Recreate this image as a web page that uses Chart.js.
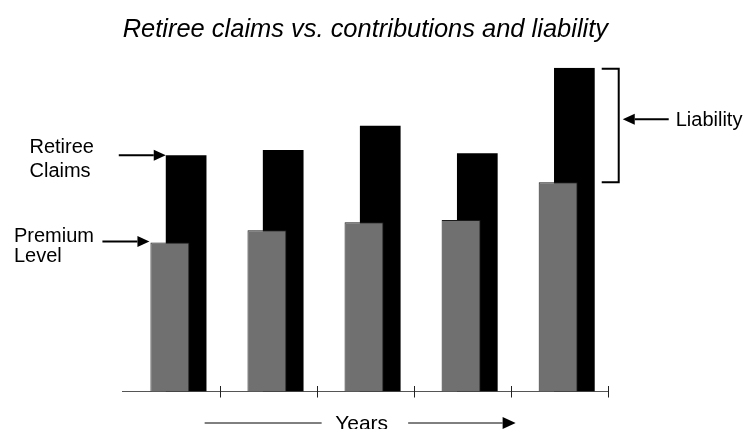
<!DOCTYPE html>
<html>
<head>
<meta charset="utf-8">
<script src="https://cdn.jsdelivr.net/npm/chart.js@4"></script>
<style>
  html, body { margin: 0; padding: 0; background: #ffffff; }
  #wrap { width: 749px; height: 429px; position: relative; }
</style>
</head>
<body>
<div id="wrap"><canvas id="grafica"></canvas></div>
<script>
// Datos (unidades relativas, la barra más alta = 100)
const years = ["Year 1", "Year 2", "Year 3", "Year 4", "Year 5"];
const premiumLevel = [46.0, 49.8, 52.3, 53.0, 64.6];
const retireeClaims = [73.0, 74.6, 82.1, 73.6, 100];

const FONT = "'Liberation Sans', Arial, sans-serif";

// flecha horizontal con punta triangular
function flecha(ctx, x1, x2, y, head, half, width) {
    const dir = x2 > x1 ? 1 : -1;
    ctx.lineWidth = width;
    ctx.beginPath();
    ctx.moveTo(x1, y);
    ctx.lineTo(x2 - dir * head, y);
    ctx.stroke();
    ctx.beginPath();
    ctx.moveTo(x2, y);
    ctx.lineTo(x2 - dir * head, y - half);
    ctx.lineTo(x2 - dir * head, y + half);
    ctx.closePath();
    ctx.fill();
}

// Plugin para las anotaciones (flechas, corchete, marcas del eje)
const anotaciones = {
    id: "anotaciones",
    afterDraw(chart) {
        const ctx = chart.ctx;
        const area = chart.chartArea;
        const xs = chart.scales.x;
        const gris = chart.getDatasetMeta(0).data;
        const negro = chart.getDatasetMeta(1).data;

        ctx.save();
        ctx.fillStyle = "#000";

        // marcas del eje X entre categorías
        ctx.lineWidth = 1;
        ctx.strokeStyle = "#222";
        for (let i = 0; i < years.length; i++) {
            const x = i < years.length - 1
                ? (xs.getPixelForValue(i) + xs.getPixelForValue(i + 1)) / 2
                : xs.right;
            const px = Math.round(x) + 0.5;
            ctx.beginPath();
            ctx.moveTo(px, area.bottom - 5.5);
            ctx.lineTo(px, area.bottom + 6);
            ctx.stroke();
        }
        ctx.strokeStyle = "#000";

        ctx.font = "20px " + FONT;
        ctx.textBaseline = "alphabetic";
        ctx.textAlign = "left";

        // Retiree Claims
        const bN = negro[0];
        const yN = bN.y;
        const tipN = bN.x - bN.width / 2;
        flecha(ctx, tipN - 47, tipN, yN, 12, 5.5, 2);
        ctx.fillText("Retiree", 29.5, yN - 2);
        ctx.fillText("Claims", 29.5, yN + 22);

        // Premium Level
        const bG = gris[0];
        const yG = bG.y - 1;
        const tipG = bG.x - bG.width / 2 - 1;
        flecha(ctx, tipG - 47, tipG, yG, 12, 5.5, 2);
        ctx.fillText("Premium", 14, yG);
        ctx.fillText("Level", 14, yG + 20);

        // Liability: corchete entre la barra negra y la gris del último año
        const last = years.length - 1;
        const top = negro[last].y;
        const bottom = gris[last].y;
        const armX = negro[last].x + negro[last].width / 2 + 7;
        const vX = armX + 17;
        ctx.lineWidth = 2;
        ctx.beginPath();
        ctx.moveTo(armX, top + 1);
        ctx.lineTo(vX, top + 1);
        ctx.lineTo(vX, bottom);
        ctx.lineTo(armX, bottom);
        ctx.stroke();
        const yL = top + 0.45 * (bottom - top);
        flecha(ctx, vX + 50, vX + 4, yL, 12, 5.5, 2);
        ctx.textBaseline = "middle";
        ctx.fillText("Liability", vX + 57, yL + 1);

        // Years con flecha debajo del eje
        const cx = (area.left + area.right) / 2 - 3.7;
        const yY = area.bottom + 31;
        ctx.lineWidth = 1;
        ctx.beginPath();
        ctx.moveTo(cx - 157, yY + 0.5);
        ctx.lineTo(cx - 40, yY + 0.5);
        ctx.stroke();
        flecha(ctx, cx + 46.5, cx + 154, yY + 0.5, 13, 6, 1);
        ctx.font = "21px " + FONT;
        ctx.textAlign = "center";
        ctx.textBaseline = "alphabetic";
        ctx.fillText("Years", cx, area.bottom + 38.5);

        ctx.restore();
    },
};

new Chart(document.getElementById("grafica").getContext("2d"), {
    type: "bar",
    data: {
        labels: years,
        datasets: [
            {
                label: "Premium Level",
                data: premiumLevel,
                backgroundColor: "#707070",
                borderColor: "#1a1a1a",
                borderWidth: 1,
                borderSkipped: "bottom",
                // casi centrada en la categoría
                categoryPercentage: 0.0536,
                barPercentage: 15.0,
                order: 0, // se dibuja encima
            },
            {
                label: "Retiree Claims",
                data: retireeClaims,
                backgroundColor: "#000000",
                borderWidth: 0,
                // desplazada a la derecha, por detrás de la gris
                categoryPercentage: 0.614,
                barPercentage: 1.366,
                order: 1,
            },
        ],
    },
    options: {
        responsive: true,
        maintainAspectRatio: false,
        animation: false,
        layout: { padding: { left: 122.7, right: 141, top: 0, bottom: 37.5 } },
        plugins: {
            legend: { display: false },
            tooltip: { enabled: false },
            title: {
                display: true,
                text: "Retiree claims vs. contributions and liability",
                color: "#000",
                font: { family: FONT, size: 26, style: "italic", weight: "normal", lineHeight: 1.2 },
                padding: { top: 14.4, bottom: 22.1 },
            },
        },
        scales: {
            x: {
                type: "category",
                offset: true,
                grid: { display: false, drawTicks: false },
                ticks: { display: false },
                border: { display: true, color: "#555", width: 1 },
            },
            y: {
                min: 0,
                max: 100,
                display: false,
            },
        },
    },
    plugins: [anotaciones],
});
</script>
</body>
</html>
